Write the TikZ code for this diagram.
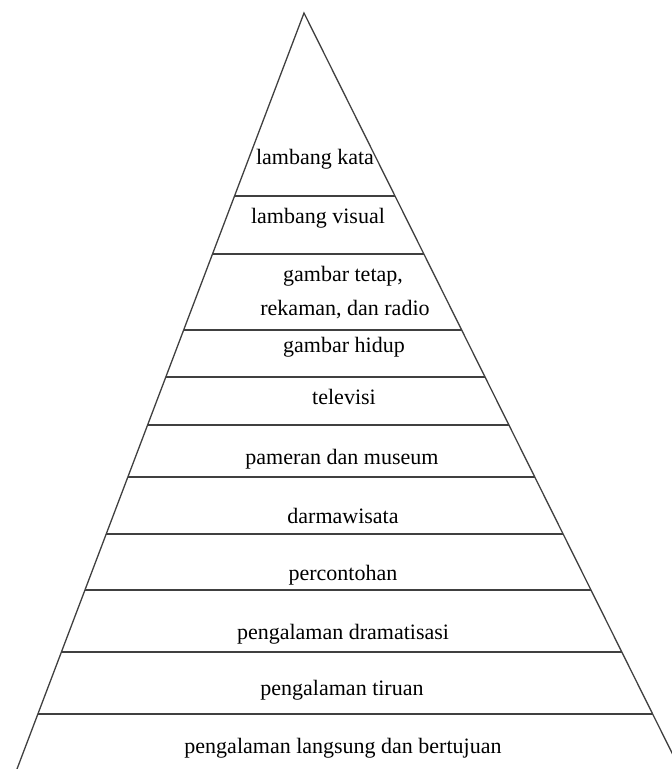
\documentclass[tikz,border=0pt]{standalone}
\usepackage{fontspec}
\setmainfont{Liberation Serif}
\usetikzlibrary{calc}

\begin{document}
\begin{tikzpicture}[x=1pt,y=-1pt,
    edge/.style={draw=black!75,line width=1.3pt},
    lbl/.style={anchor=base,inner sep=0pt,font=\fontsize{22}{24}\selectfont}]
    \useasboundingbox (0,0) rectangle (672,769);
    \coordinate (top) at (304,13);
    \coordinate (bl)  at (17,769);
    \coordinate (br)  at (680,769);

    % sides
    \draw[edge] (bl) -- (top) -- (br);
    % levels
    \foreach \y in {196,254,330,377,425,477,534,590,652,714}
        \draw[edge] ($(top)!{(\y-13)/756}!(bl)$) -- ($(top)!{(\y-13)/756}!(br)$);

    \node[lbl] (kata)     at (315,164) {lambang kata};
    \node[lbl] (visual)   at (318,223) {lambang visual};
    \node[lbl] (tetap)    at (343,281) {gambar tetap,};
    \node[lbl] (rekaman)  at (345,315) {rekaman, dan radio};
    \node[lbl] (hidup)    at (344,352) {gambar hidup};
    \node[lbl] (tv)       at (344,404) {televisi};
    \node[lbl] (museum)   at (342,464) {pameran dan museum};
    \node[lbl] (wisata)   at (343,523) {darmawisata};
    \node[lbl] (contoh)   at (343,580) {percontohan};
    \node[lbl] (drama)    at (343,639) {pengalaman dramatisasi};
    \node[lbl] (tiruan)   at (342,695) {pengalaman tiruan};
    \node[lbl] (langsung) at (343,753) {pengalaman langsung dan bertujuan};
\end{tikzpicture}
\end{document}
